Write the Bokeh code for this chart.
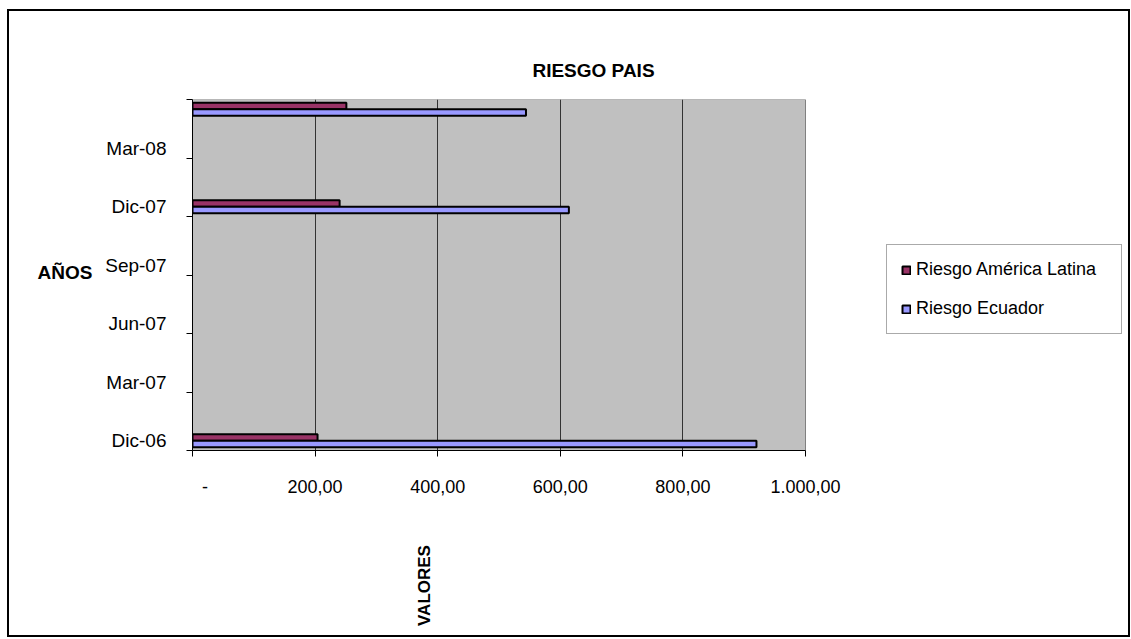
from bokeh.plotting import figure
from bokeh.models import (Range1d, LinearAxis, FixedTicker, ColumnDataSource, Legend,
                          LegendItem, Label, Grid, InlineStyleSheet)
from bokeh.core.properties import value
from bokeh.embed import file_html
from bokeh.resources import INLINE

# Observed periods, as months counted from Dec 2006
periods = ["Dic-06", "Dic-07", "May-08"]
period_month = [0, 12, 17]
riesgo_latam = [204, 240, 251]
riesgo_ecuador = [920, 614, 544]

series_names = ["Riesgo América Latina", "Riesgo Ecuador"]
series_colors = ["#993366", "#9999FF"]

x_ticks = [0, 200, 400, 600, 800, 1000]
x_tick_labels = ["\u00a0\u00a0\u00a0\u00a0\u00a0-", "200,00", "400,00", "600,00", "800,00", "1.000,00"]
y_ticks = [0, 3, 6, 9, 12, 15, 18]          # quarter boundaries, Dec-06 .. Jun-08
y_tick_labels = ["Dic-06", "Mar-07", "Jun-07", "Sep-07", "Dic-07", "Mar-08"]

FONT = "Liberation Sans"

# layout in pixels: the plot area is 613 px wide, the frame continues to the
# right so that the legend can sit inside it
W, H = 1131, 639
FRAME_L, FRAME_R, FRAME_T, FRAME_B = 192, 1125, 99, 450
AREA_W = 613
x_max = x_ticks[-1]
x_end = x_max * (FRAME_R - FRAME_L) / AREA_W

# each month is a band of height 1; the two bars share the middle two thirds
bar_h = 1.0 / 3.0
src = ColumnDataSource(dict(
    period=periods,
    y_latam=[m + 0.5 + bar_h / 2 for m in period_month],
    y_ecu=[m + 0.5 - bar_h / 2 for m in period_month],
    latam=riesgo_latam,
    ecuador=riesgo_ecuador,
))

# outer chart border drawn over the canvas
border_css = InlineStyleSheet(css="""
:host { position: relative; }
:host::after {
  content: ""; position: absolute; pointer-events: none;
  left: 7px; top: 9px; width: 1119px; height: 624px;
  border: 2.5px solid black;
}
""")

p = figure(width=W, height=H, output_backend="svg", toolbar_location=None,
           title=None,
           x_range=Range1d(0, x_end), y_range=Range1d(y_ticks[0], y_ticks[-1]),
           x_axis_location=None, y_axis_location=None,
           min_border_left=FRAME_L, min_border_right=W - FRAME_R,
           min_border_top=FRAME_T, min_border_bottom=H - FRAME_B,
           background_fill_color="white", border_fill_color="white",
           outline_line_color=None, stylesheets=[border_css])
p.grid.visible = False

# grey plot area
p.quad(left=[0], right=[x_max], bottom=[y_ticks[0]], top=[y_ticks[-1]],
       fill_color="#C0C0C0", line_color="#808080", line_width=1, level="image")

p.add_layout(Grid(dimension=0, ticker=FixedTicker(ticks=x_ticks[1:-1]),
                  grid_line_color="#333333", grid_line_width=1))

r_latam = p.hbar(y="y_latam", left=0, right="latam", height=bar_h, source=src,
                 fill_color=series_colors[0], line_color="black", line_width=2)
r_ecu = p.hbar(y="y_ecu", left=0, right="ecuador", height=bar_h, source=src,
               fill_color=series_colors[1], line_color="black", line_width=2)

# value axis
xaxis = LinearAxis(ticker=FixedTicker(ticks=x_ticks), bounds=(0, x_max),
                   major_label_overrides={t: lab for t, lab in zip(x_ticks, x_tick_labels)},
                   major_tick_out=6, major_tick_in=0, major_label_standoff=20,
                   minor_tick_line_color=None,
                   axis_line_color="black", major_tick_line_color="black",
                   major_label_text_font=FONT, major_label_text_font_size="18px",
                   major_label_text_color="black")
p.add_layout(xaxis, "below")

# date axis: tick marks on quarter boundaries
ytick_axis = LinearAxis(ticker=FixedTicker(ticks=y_ticks),
                        major_label_overrides={t: "" for t in y_ticks},
                        major_tick_out=6, major_tick_in=0, major_label_standoff=0,
                        minor_tick_line_color=None,
                        axis_line_color="black", major_tick_line_color="black",
                        major_label_text_font_size="1px")
p.add_layout(ytick_axis, "left")

# date axis: labels centred in the first month of each quarter
label_pos = [t + 0.5 for t in y_ticks[:-1]]
ylabel_axis = LinearAxis(ticker=FixedTicker(ticks=label_pos),
                         major_label_overrides={t: lab for t, lab in zip(label_pos, y_tick_labels)},
                         major_tick_out=0, major_tick_in=0, major_label_standoff=20,
                         minor_tick_line_color=None,
                         axis_line_color=None, major_tick_line_color=None,
                         major_label_text_font=FONT, major_label_text_font_size="19px",
                         major_label_text_color="black")
p.add_layout(ylabel_axis, "left")

# legend box: left edge 886 px, top edge 243 px (frame-relative location)
legend = Legend(items=[LegendItem(label=value(series_names[0]), renderers=[r_latam]),
                       LegendItem(label=value(series_names[1]), renderers=[r_ecu])],
                location=(886 - FRAME_L, FRAME_B - 243 - 91), orientation="vertical",
                glyph_width=10, glyph_height=10, label_standoff=5,
                label_height=20, label_width=191, spacing=18, padding=14, margin=0,
                label_text_font=FONT, label_text_font_size="18px",
                label_text_color="black",
                border_line_color="#555555", border_line_width=1,
                background_fill_color="white", background_fill_alpha=1)
p.add_layout(legend)

# free-standing texts in canvas pixels, hosted in side panels so they are not clipped
def canvas_label(x, y, text, size, align="left", angle=0.0):
    return Label(x=x, y=y, x_units="canvas", y_units="canvas", text=text, angle=angle,
                 text_align=align, text_baseline="middle", text_color="black",
                 text_font=FONT, text_font_style="bold", text_font_size=size)

p.add_layout(canvas_label(593, 70, "RIESGO PAIS", "19px", "center"), "below")
p.add_layout(canvas_label(37, 272, "AÑOS", "19px"), "below")
p.add_layout(canvas_label(424, 585, "VALORES", "17px", "center", 1.5707963), "left")

open("out.html", "w").write(file_html(p, INLINE))
